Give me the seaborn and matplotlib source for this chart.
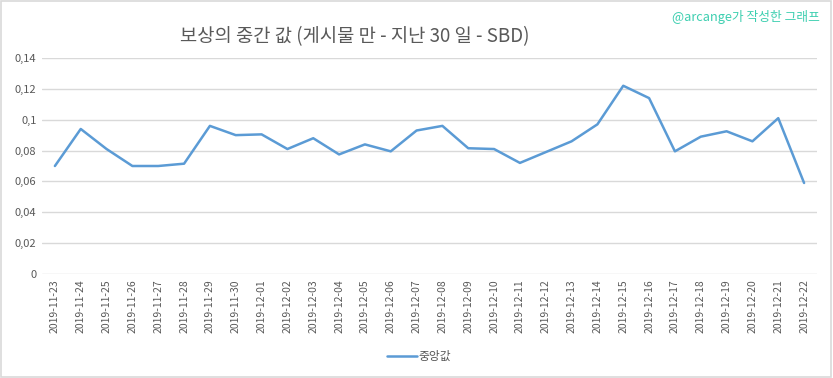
import pandas as pd
import matplotlib
matplotlib.use("Agg")
import matplotlib.pyplot as plt
import seaborn as sns
from matplotlib.patches import Rectangle

dates = ['2019-11-23', '2019-11-24', '2019-11-25', '2019-11-26', '2019-11-27',
         '2019-11-28', '2019-11-29', '2019-11-30', '2019-12-01', '2019-12-02',
         '2019-12-03', '2019-12-04', '2019-12-05', '2019-12-06', '2019-12-07',
         '2019-12-08', '2019-12-09', '2019-12-10', '2019-12-11', '2019-12-12',
         '2019-12-13', '2019-12-14', '2019-12-15', '2019-12-16', '2019-12-17',
         '2019-12-18', '2019-12-19', '2019-12-20', '2019-12-21', '2019-12-22']
median_values = [0.070, 0.094, 0.081, 0.070, 0.070, 0.0715, 0.096, 0.090, 0.0905, 0.081,
                 0.088, 0.0775, 0.084, 0.0795, 0.093, 0.096, 0.0815, 0.081, 0.072, 0.079,
                 0.086, 0.097, 0.122, 0.114, 0.0795, 0.089, 0.0925, 0.086, 0.101, 0.059]
y_ticks = [0, 0.02, 0.04, 0.06, 0.08, 0.10, 0.12, 0.14]
y_tick_labels = ['0', '0,02', '0,04', '0,06', '0,08', '0,1', '0,12', '0,14']

title = '보상의 중간 값 (게시물 만 - 지난 30 일 - SBD)'
series_name = '중앙값'
credit = '@arcange가 작성한 그래프'

sns.set_style('white')
plt.rcParams['font.family'] = ['Noto Sans CJK KR', 'DejaVu Sans']
plt.rcParams['axes.unicode_minus'] = False

df = pd.DataFrame({'date': dates, 'value': median_values})
df['pos'] = range(len(df))

fig = plt.figure(figsize=(8.33, 3.78), dpi=100)
ax = fig.add_axes([0.0504, 0.2751, 0.9304, 0.5715])

sns.lineplot(data=df, x='pos', y='value', ax=ax, color='#5B9BD5', linewidth=1.8,
             label=series_name, legend=False)

ax.set_xlim(-0.5, len(df) - 0.5)
ax.set_ylim(0, 0.14)
ax.set_xticks(df['pos'])
ax.set_xticklabels(dates, rotation=90, fontsize=7.5, color='#595959')
ax.set_yticks(y_ticks)
ax.set_yticklabels(y_tick_labels, fontsize=8, color='#595959')
ax.tick_params(axis='both', length=0, pad=4)
ax.set_xlabel('')
ax.set_ylabel('')
ax.grid(axis='y', color='#D9D9D9', linewidth=1)
ax.set_axisbelow(True)
for s in ax.spines.values():
    s.set_visible(False)

fig.text(0.426, 0.902, title, ha='center', va='center', fontsize=13.5, color='#595959')
fig.text(0.984, 0.955, credit, ha='right', va='center', fontsize=9.2, color='#3DCFB0')

handles, labels = ax.get_legend_handles_labels()
fig.legend(handles, labels, loc='center', bbox_to_anchor=(0.503, 0.056), frameon=False,
           fontsize=8.5, labelcolor='#595959', handlelength=2.6, handletextpad=0.1)

fig.patches.append(Rectangle((0.001, 0.002), 0.997, 0.995, transform=fig.transFigure,
                             fill=False, edgecolor='#D9D9D9', linewidth=1.2))

fig.savefig('out.png', dpi=100)
